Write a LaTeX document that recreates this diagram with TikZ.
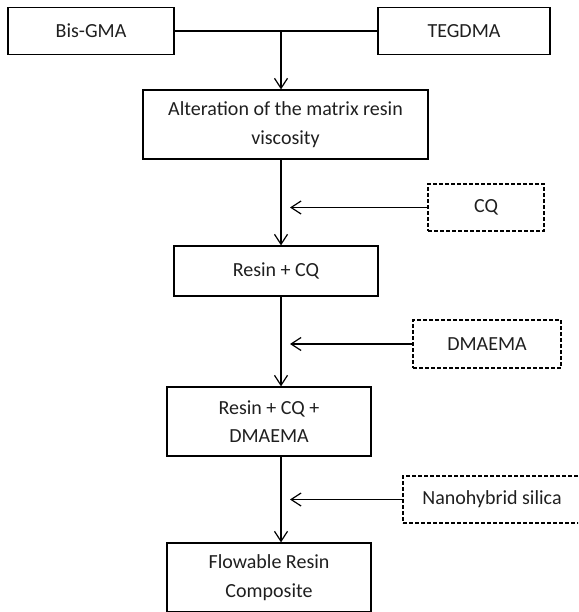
\documentclass[tikz,border=0pt]{standalone}
\usepackage{fontspec}
\setmainfont{Carlito}
\usetikzlibrary{arrows.meta}
\begin{document}
\begin{tikzpicture}[x=1pt,y=-1pt,
  box/.style={draw, rectangle, line width=1.2pt, inner sep=0pt, align=center,
    text=black!88, font=\fontsize{20}{28.5}\selectfont},
  addbox/.style={box, dashed, dash pattern=on 4pt off 2pt},
  conn/.style={line width=1.2pt},
  arr/.style={conn, -{Straight Barb[length=10pt,width=13pt,line width=1.2pt]}}
]
\useasboundingbox (0,0) rectangle (578,612);
\clip (0,0) rectangle (578,612);

\node[box, minimum width=166pt, minimum height=47pt] (bis) at (91,31) {Bis-GMA};
\node[box, minimum width=172pt, minimum height=47pt] (teg) at (464,31) {TEGDMA};
\node[box, minimum width=285pt, minimum height=69pt] (alt) at (285.5,124.5) {Alteration of the matrix resin\\viscosity};
\node[addbox, minimum width=116pt, minimum height=47pt] (cq) at (486,207.5) {CQ};
\node[box, minimum width=204pt, minimum height=50pt] (rcq) at (276,271) {Resin + CQ};
\node[addbox, minimum width=148pt, minimum height=48pt] (dma) at (487,344) {DMAEMA};
\node[box, minimum width=204pt, minimum height=69pt] (rcqd) at (269,421.5) {Resin + CQ +\\DMAEMA};
\node[addbox, minimum width=178pt, minimum height=47pt] (nano) at (492,499.5) {Nanohybrid silica};
\node[box, minimum width=204pt, minimum height=69pt] (flow) at (269,577.5) {Flowable Resin\\Composite};

\coordinate (j) at (281,31);
\coordinate (t1) at (290,207.5);
\coordinate (t2) at (290,344);
\coordinate (t3) at (290,499.5);

\draw[conn] (bis.east) -- (teg.west);
\draw[arr] (j) -- (j |- alt.north);
\draw[arr] (alt.south -| j) -- (rcq.north -| j);
\draw[arr] (rcq.south -| j) -- (rcqd.north -| j);
\draw[arr] (rcqd.south -| j) -- (flow.north -| j);
\draw[arr] (cq.west) -- (t1);
\draw[arr] (dma.west) -- (t2);
\draw[arr] (nano.west) -- (t3);
\end{tikzpicture}
\end{document}
